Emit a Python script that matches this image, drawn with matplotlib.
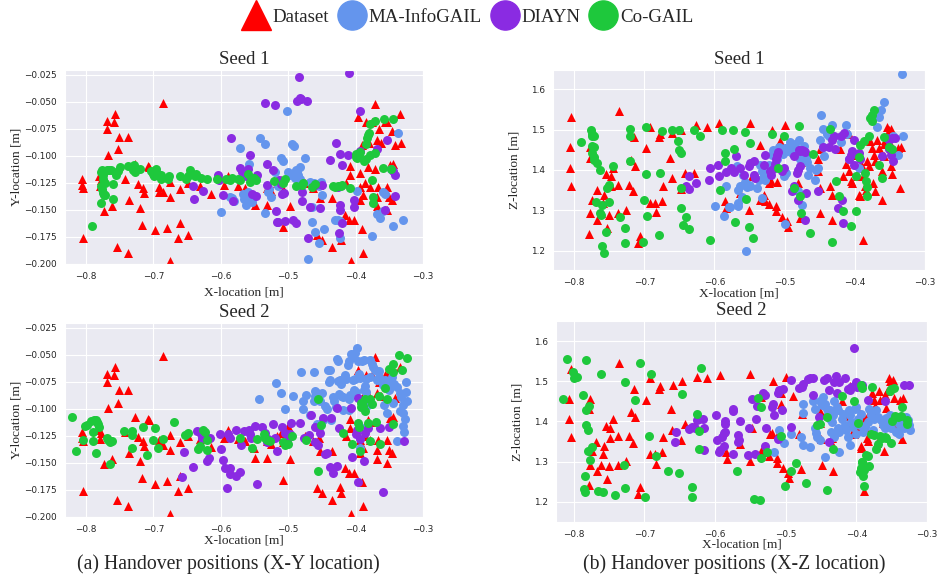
import numpy as np
import matplotlib
matplotlib.use("Agg")
import matplotlib.pyplot as plt
import seaborn as sns
from matplotlib.lines import Line2D

sns.set_style("darkgrid")
plt.rcParams['font.family'] = ['Liberation Serif', 'DejaVu Serif']

RED = '#ff0000'
BLUE = '#6495ed'
PURPLE = '#8a2be2'
GREEN = '#1ec83c'

# ---------- Dataset (same in both seeds) ----------
dataset_xy_x = [-0.806, -0.806, -0.805, -0.805, -0.780, -0.778, -0.779, -0.773, -0.769, -0.768, -0.767,
                -0.759, -0.757, -0.753, -0.751, -0.754, -0.761, -0.737, -0.736, -0.737, -0.742,
                -0.727, -0.723, -0.720, -0.716, -0.717, -0.714, -0.708, -0.706, -0.697, -0.692, -0.691,
                -0.685, -0.685, -0.680, -0.676, -0.675, -0.675, -0.664, -0.661, -0.661, -0.649, -0.648,
                -0.631, -0.615, -0.595, -0.589, -0.575, -0.564, -0.549, -0.551, -0.532, -0.532, -0.525,
                -0.517, -0.510, -0.508, -0.508, -0.501, -0.497, -0.475, -0.463, -0.457, -0.450, -0.453,
                -0.454, -0.435, -0.435, -0.423, -0.422, -0.416, -0.414, -0.410, -0.409, -0.408, -0.407,
                -0.403, -0.396, -0.394, -0.394, -0.393, -0.391, -0.389, -0.391, -0.389, -0.386, -0.384,
                -0.381, -0.380, -0.379, -0.375, -0.371, -0.369, -0.371, -0.369, -0.369, -0.367, -0.365,
                -0.362, -0.357, -0.354, -0.353, -0.354, -0.351, -0.346, -0.349, -0.344, -0.346, -0.341,
                -0.334, -0.333]
dataset_xy_y = [-0.121, -0.127, -0.130, -0.176, -0.119, -0.122, -0.128, -0.151, -0.068, -0.075, -0.099,
                -0.069, -0.061, -0.094, -0.082, -0.184, -0.146, -0.082, -0.141, -0.190, -0.121,
                -0.107, -0.126, -0.148, -0.130, -0.164, -0.134, -0.109, -0.110, -0.169, -0.129, -0.133,
                -0.133, -0.051, -0.167, -0.124, -0.138, -0.197, -0.176, -0.162, -0.131, -0.173, -0.125,
                -0.128, -0.135, -0.127, -0.119, -0.128, -0.130, -0.145, -0.136, -0.145, -0.130, -0.132,
                -0.125, -0.122, -0.131, -0.166, -0.116, -0.146, -0.125, -0.130, -0.173, -0.178, -0.139,
                -0.127, -0.139, -0.184, -0.172, -0.178, -0.155, -0.125, -0.159, -0.118, -0.109, -0.197,
                -0.159, -0.064, -0.141, -0.129, -0.116, -0.168, -0.190, -0.090, -0.136, -0.125, -0.069,
                -0.110, -0.088, -0.129, -0.069, -0.052, -0.085, -0.112, -0.138, -0.146, -0.129, -0.075,
                -0.088, -0.069, -0.069, -0.129, -0.150, -0.138, -0.077, -0.108, -0.107, -0.141, -0.090,
                -0.061, -0.088]

dataset_xz_x = [-0.804, -0.806, -0.806, -0.804, -0.779, -0.778, -0.777, -0.777, -0.774, -0.768, -0.767,
                -0.762, -0.759, -0.757, -0.755, -0.753, -0.750, -0.748, -0.748, -0.745, -0.738, -0.736,
                -0.737, -0.726, -0.722, -0.719, -0.716, -0.715, -0.713, -0.706, -0.709, -0.697, -0.692,
                -0.692, -0.685, -0.684, -0.679, -0.678, -0.675, -0.674, -0.663, -0.661, -0.660, -0.648,
                -0.647, -0.642, -0.629, -0.626, -0.611, -0.593, -0.585, -0.583, -0.564, -0.550, -0.551,
                -0.547, -0.535, -0.535, -0.530, -0.528, -0.523, -0.522, -0.520, -0.518, -0.513, -0.512,
                -0.511, -0.506, -0.506, -0.504, -0.499, -0.497, -0.495, -0.490, -0.481, -0.478, -0.477,
                -0.452, -0.452, -0.450, -0.449, -0.449, -0.435, -0.433, -0.433, -0.421, -0.417, -0.413,
                -0.409, -0.409, -0.406, -0.404, -0.401, -0.397, -0.394, -0.393, -0.391, -0.390, -0.389,
                -0.388, -0.385, -0.384, -0.382, -0.380, -0.378, -0.375, -0.374, -0.373, -0.372, -0.371,
                -0.368, -0.366, -0.362, -0.361, -0.359, -0.358, -0.357, -0.354, -0.352, -0.349, -0.348,
                -0.347, -0.347, -0.338, -0.335, -0.334]
dataset_xz_z = [1.530, 1.457, 1.405, 1.361, 1.242, 1.430, 1.457, 1.293, 1.327, 1.350, 1.277,
                1.293, 1.318, 1.339, 1.389, 1.256, 1.289, 1.385, 1.360, 1.405, 1.364, 1.545,
                1.293, 1.302, 1.364, 1.424, 1.347, 1.482, 1.410, 1.237, 1.219, 1.454, 1.507,
                1.318, 1.318, 1.295, 1.482, 1.488, 1.324, 1.361, 1.430, 1.380, 1.491, 1.354,
                1.500, 1.393, 1.393, 1.510, 1.507, 1.515, 1.324, 1.306, 1.343, 1.517, 1.302,
                1.385, 1.461, 1.327, 1.339, 1.323, 1.315, 1.368, 1.372, 1.500, 1.310, 1.298,
                1.370, 1.471, 1.443, 1.285, 1.510, 1.273, 1.260, 1.464, 1.368, 1.281, 1.419,
                1.426, 1.397, 1.356, 1.293, 1.451, 1.360, 1.277, 1.339, 1.451, 1.385, 1.414,
                1.488, 1.397, 1.372, 1.368, 1.438, 1.385, 1.339, 1.335, 1.414, 1.405, 1.228,
                1.385, 1.360, 1.351, 1.422, 1.410, 1.471, 1.454, 1.368, 1.438, 1.422, 1.347,
                1.475, 1.454, 1.397, 1.327, 1.465, 1.434, 1.475, 1.507, 1.500, 1.410, 1.502,
                1.458, 1.389, 1.454, 1.356, 1.458]

# ---------- Seed 1, X-Y ----------
infogail_s1_xy_x = [-0.600, -0.586, -0.584, -0.581, -0.572, -0.567, -0.565, -0.562, -0.560, -0.559, -0.556,
                    -0.554, -0.551, -0.558, -0.542, -0.534, -0.535, -0.530, -0.525, -0.520, -0.510, -0.508,
                    -0.502, -0.500, -0.497, -0.492, -0.490, -0.487, -0.485, -0.482, -0.495, -0.492, -0.475,
                    -0.470, -0.467, -0.462, -0.457, -0.454, -0.451, -0.465, -0.465, -0.460, -0.455, -0.447,
                    -0.450, -0.431, -0.426, -0.423, -0.423, -0.398, -0.376, -0.368, -0.364, -0.359, -0.357,
                    -0.344, -0.337, -0.329, -0.359, -0.347, -0.488, -0.483, -0.515, -0.528]
infogail_s1_xy_y = [-0.152, -0.138, -0.139, -0.142, -0.093, -0.135, -0.140, -0.145, -0.138, -0.133, -0.140,
                    -0.143, -0.137, -0.107, -0.083, -0.089, -0.153, -0.133, -0.138, -0.115, -0.102, -0.105,
                    -0.058, -0.115, -0.118, -0.116, -0.120, -0.115, -0.118, -0.121, -0.089, -0.091, -0.102,
                    -0.195, -0.124, -0.125, -0.126, -0.128, -0.124, -0.147, -0.161, -0.170, -0.181, -0.168,
                    -0.136, -0.159, -0.159, -0.160, -0.176, -0.132, -0.174, -0.154, -0.157, -0.133, -0.135,
                    -0.165, -0.079, -0.159, -0.151, -0.112, -0.113, -0.110, -0.128, -0.131]

diayn_s1_xy_x = [-0.585, -0.641, -0.639, -0.627, -0.604, -0.602, -0.596, -0.582, -0.571, -0.569, -0.563,
                 -0.559, -0.557, -0.554, -0.546, -0.547, -0.535, -0.532, -0.531, -0.523, -0.520, -0.518,
                 -0.517, -0.515, -0.513, -0.510, -0.509, -0.506, -0.505, -0.493, -0.489, -0.487, -0.483,
                 -0.481, -0.484, -0.472, -0.480, -0.480, -0.471, -0.468, -0.460, -0.453, -0.450, -0.438,
                 -0.429, -0.426, -0.424, -0.423, -0.423, -0.423, -0.420, -0.420, -0.411, -0.410, -0.403,
                 -0.403, -0.394, -0.393, -0.369, -0.357, -0.354, -0.344, -0.342, -0.342]
diayn_s1_xy_y = [-0.083, -0.128, -0.140, -0.132, -0.118, -0.122, -0.136, -0.142, -0.111, -0.115, -0.119,
                 -0.112, -0.099, -0.135, -0.118, -0.137, -0.051, -0.127, -0.107, -0.113, -0.053, -0.151,
                 -0.161, -0.161, -0.122, -0.126, -0.135, -0.134, -0.160, -0.159, -0.162, -0.049, -0.046,
                 -0.047, -0.027, -0.049, -0.142, -0.133, -0.176, -0.147, -0.127, -0.148, -0.127, -0.104,
                 -0.088, -0.129, -0.171, -0.098, -0.145, -0.150, -0.108, -0.162, -0.099, -0.023, -0.141,
                 -0.147, -0.058, -0.095, -0.094, -0.150, -0.085, -0.114, -0.118, -0.137]

cogail_s1_xy_x = [-0.791, -0.777, -0.776, -0.774, -0.773, -0.771, -0.777, -0.777, -0.775, -0.774, -0.772,
                  -0.776, -0.769, -0.766, -0.763, -0.760, -0.760, -0.755, -0.752, -0.750, -0.737, -0.730,
                  -0.728, -0.727, -0.720, -0.703, -0.701, -0.699, -0.696, -0.693, -0.689, -0.688, -0.678,
                  -0.677, -0.661, -0.652, -0.649, -0.646, -0.645, -0.638, -0.637, -0.629, -0.620, -0.606,
                  -0.592, -0.587, -0.584, -0.575, -0.571, -0.559, -0.556, -0.550, -0.547, -0.521, -0.508,
                  -0.504, -0.488, -0.480, -0.478, -0.464, -0.460, -0.434, -0.430, -0.426, -0.422, -0.420,
                  -0.409, -0.400, -0.399, -0.398, -0.395, -0.394, -0.388, -0.384, -0.383, -0.381, -0.380,
                  -0.379, -0.371, -0.384, -0.379, -0.376, -0.371, -0.374, -0.374, -0.359, -0.358, -0.344,
                  -0.347]
cogail_s1_xy_y = [-0.165, -0.128, -0.131, -0.134, -0.136, -0.136, -0.144, -0.115, -0.118, -0.121, -0.125,
                  -0.113, -0.113, -0.113, -0.113, -0.126, -0.140, -0.118, -0.114, -0.110, -0.109, -0.113,
                  -0.108, -0.115, -0.112, -0.114, -0.117, -0.119, -0.112, -0.117, -0.121, -0.118, -0.121,
                  -0.119, -0.119, -0.121, -0.119, -0.117, -0.113, -0.119, -0.117, -0.120, -0.121, -0.121,
                  -0.121, -0.122, -0.120, -0.121, -0.122, -0.117, -0.124, -0.120, -0.122, -0.123, -0.125,
                  -0.121, -0.128, -0.127, -0.125, -0.129, -0.126, -0.128, -0.129, -0.128, -0.128, -0.127,
                  -0.130, -0.098, -0.101, -0.102, -0.099, -0.096, -0.105, -0.089, -0.083, -0.081, -0.079,
                  -0.070, -0.068, -0.103, -0.099, -0.122, -0.097, -0.138, -0.144, -0.111, -0.066, -0.066,
                  -0.112]

# ---------- Seed 2, X-Y ----------
infogail_s2_xy_x = [-0.543, -0.518, -0.511, -0.505, -0.493, -0.481, -0.478, -0.478, -0.473, -0.467, -0.462,
                    -0.460, -0.461, -0.460, -0.457, -0.458, -0.455, -0.453, -0.450, -0.449, -0.445, -0.443,
                    -0.441, -0.438, -0.440, -0.438, -0.437, -0.434, -0.432, -0.429, -0.427, -0.426, -0.426,
                    -0.423, -0.422, -0.425, -0.421, -0.418, -0.419, -0.415, -0.414, -0.412, -0.410, -0.410,
                    -0.409, -0.407, -0.404, -0.404, -0.401, -0.402, -0.399, -0.401, -0.398, -0.397, -0.395,
                    -0.393, -0.391, -0.388, -0.388, -0.386, -0.384, -0.379, -0.384, -0.381, -0.384, -0.385,
                    -0.379, -0.375, -0.374, -0.371, -0.369, -0.366, -0.365, -0.360, -0.358, -0.356, -0.351,
                    -0.349, -0.348, -0.346, -0.345, -0.343, -0.339, -0.334, -0.332, -0.330, -0.329, -0.327,
                    -0.328, -0.334, -0.325, -0.324, -0.325, -0.339, -0.329, -0.354, -0.393, -0.410]
infogail_s2_xy_y = [-0.091, -0.076, -0.085, -0.100, -0.088, -0.066, -0.093, -0.100, -0.087, -0.106, -0.093,
                    -0.088, -0.066, -0.083, -0.085, -0.114, -0.118, -0.093, -0.085, -0.110, -0.097, -0.100,
                    -0.064, -0.064, -0.075, -0.073, -0.110, -0.089, -0.093, -0.098, -0.054, -0.056, -0.074,
                    -0.073, -0.077, -0.086, -0.088, -0.089, -0.101, -0.069, -0.072, -0.059, -0.056, -0.091,
                    -0.087, -0.049, -0.052, -0.073, -0.072, -0.082, -0.084, -0.048, -0.044, -0.056, -0.068,
                    -0.071, -0.056, -0.055, -0.082, -0.079, -0.072, -0.070, -0.091, -0.096, -0.117, -0.084,
                    -0.055, -0.058, -0.061, -0.064, -0.073, -0.070, -0.065, -0.078, -0.096, -0.073, -0.082,
                    -0.080, -0.073, -0.070, -0.094, -0.077, -0.080, -0.085, -0.089, -0.096, -0.104, -0.109,
                    -0.121, -0.102, -0.084, -0.093, -0.075, -0.130, -0.116, -0.104, -0.136, -0.101]

diayn_s2_xy_x = [-0.655, -0.658, -0.641, -0.635, -0.629, -0.628, -0.621, -0.617, -0.616, -0.601, -0.599,
                 -0.597, -0.593, -0.586, -0.587, -0.590, -0.587, -0.591, -0.577, -0.577, -0.571, -0.570,
                 -0.566, -0.558, -0.556, -0.555, -0.549, -0.546, -0.539, -0.535, -0.532, -0.530, -0.523,
                 -0.520, -0.516, -0.509, -0.505, -0.502, -0.498, -0.496, -0.483, -0.477, -0.466, -0.469,
                 -0.460, -0.460, -0.456, -0.453, -0.449, -0.446, -0.443, -0.438, -0.436, -0.433, -0.428,
                 -0.427, -0.424, -0.407, -0.405, -0.400, -0.397, -0.396, -0.393, -0.387, -0.382, -0.364,
                 -0.359, -0.350, -0.328, -0.398, -0.386]
diayn_s2_xy_y = [-0.140, -0.163, -0.154, -0.120, -0.123, -0.127, -0.148, -0.145, -0.127, -0.123, -0.137,
                 -0.147, -0.155, -0.155, -0.160, -0.123, -0.127, -0.173, -0.119, -0.162, -0.158, -0.133,
                 -0.120, -0.119, -0.123, -0.127, -0.116, -0.169, -0.117, -0.122, -0.131, -0.128, -0.114,
                 -0.127, -0.139, -0.117, -0.122, -0.130, -0.123, -0.113, -0.113, -0.127, -0.106, -0.124,
                 -0.117, -0.131, -0.133, -0.122, -0.108, -0.142, -0.141, -0.154, -0.108, -0.159, -0.099,
                 -0.153, -0.118, -0.099, -0.144, -0.123, -0.168, -0.090, -0.128, -0.148, -0.118, -0.118,
                 -0.177, -0.117, -0.130, -0.119, -0.122]

cogail_s2_xy_x = [-0.821, -0.814, -0.805, -0.801, -0.798, -0.792, -0.788, -0.785, -0.784, -0.782, -0.780,
                  -0.789, -0.789, -0.785, -0.769, -0.767, -0.764, -0.762, -0.764, -0.744, -0.732, -0.732,
                  -0.731, -0.716, -0.710, -0.701, -0.697, -0.693, -0.685, -0.669, -0.653, -0.649, -0.634,
                  -0.631, -0.627, -0.624, -0.621, -0.621, -0.571, -0.553, -0.546, -0.536, -0.534, -0.532,
                  -0.527, -0.507, -0.504, -0.500, -0.494, -0.473, -0.456, -0.451, -0.456, -0.419, -0.405,
                  -0.396, -0.395, -0.393, -0.392, -0.389, -0.392, -0.386, -0.386, -0.381, -0.379, -0.376,
                  -0.370, -0.379, -0.365, -0.364, -0.357, -0.354, -0.351, -0.345, -0.344, -0.345, -0.336,
                  -0.331, -0.324]
cogail_s2_xy_y = [-0.107, -0.139, -0.129, -0.116, -0.115, -0.111, -0.110, -0.110, -0.112, -0.114, -0.117,
                  -0.121, -0.130, -0.141, -0.127, -0.129, -0.131, -0.130, -0.151, -0.120, -0.120, -0.124,
                  -0.136, -0.117, -0.143, -0.129, -0.118, -0.136, -0.128, -0.112, -0.124, -0.122, -0.137,
                  -0.134, -0.119, -0.121, -0.138, -0.129, -0.127, -0.136, -0.128, -0.123, -0.127, -0.129,
                  -0.130, -0.131, -0.133, -0.132, -0.125, -0.129, -0.157, -0.115, -0.091, -0.122, -0.132,
                  -0.113, -0.117, -0.139, -0.094, -0.097, -0.098, -0.102, -0.091, -0.113, -0.091, -0.095,
                  -0.112, -0.130, -0.088, -0.132, -0.081, -0.091, -0.063, -0.058, -0.066, -0.114, -0.050,
                  -0.064, -0.053]

# ---------- Seed 1, X-Z ----------
infogail_s1_xz_x = [-0.599, -0.587, -0.583, -0.580, -0.578, -0.568, -0.566, -0.564, -0.566, -0.566, -0.561,
                    -0.559, -0.556, -0.554, -0.551, -0.549, -0.555, -0.540, -0.537, -0.535, -0.533, -0.532,
                    -0.530, -0.528, -0.523, -0.518, -0.516, -0.512, -0.508, -0.511, -0.505, -0.502, -0.499,
                    -0.496, -0.493, -0.490, -0.488, -0.485, -0.482, -0.480, -0.478, -0.475, -0.472, -0.470,
                    -0.468, -0.499, -0.501, -0.498, -0.481, -0.476, -0.467, -0.464, -0.455, -0.452, -0.457,
                    -0.449, -0.448, -0.446, -0.445, -0.444, -0.439, -0.437, -0.433, -0.420, -0.413, -0.409,
                    -0.411, -0.394, -0.369, -0.366, -0.363, -0.358, -0.333, -0.332, -0.339, -0.345, -0.492,
                    -0.486, -0.479, -0.473]
infogail_s1_xz_z = [1.310, 1.286, 1.360, 1.308, 1.309, 1.411, 1.351, 1.360, 1.318, 1.312, 1.334,
                    1.388, 1.371, 1.359, 1.363, 1.360, 1.201, 1.355, 1.376, 1.413, 1.397, 1.330,
                    1.388, 1.376, 1.413, 1.438, 1.450, 1.438, 1.458, 1.426, 1.452, 1.440, 1.455,
                    1.447, 1.460, 1.443, 1.452, 1.440, 1.448, 1.432, 1.428, 1.445, 1.460, 1.430,
                    1.420, 1.267, 1.385, 1.393, 1.348, 1.313, 1.388, 1.405, 1.400, 1.405, 1.376,
                    1.475, 1.537, 1.502, 1.456, 1.434, 1.490, 1.483, 1.510, 1.469, 1.512, 1.426,
                    1.488, 1.405, 1.507, 1.532, 1.547, 1.569, 1.637, 1.484, 1.436, 1.483, 1.470,
                    1.465, 1.475, 1.442]

diayn_s1_xz_x = [-0.637, -0.640, -0.637, -0.626, -0.607, -0.608, -0.595, -0.594, -0.583, -0.576, -0.572,
                 -0.569, -0.563, -0.558, -0.551, -0.549, -0.544, -0.544, -0.542, -0.530, -0.528, -0.521,
                 -0.519, -0.516, -0.514, -0.513, -0.511, -0.509, -0.504, -0.501, -0.490, -0.487, -0.487,
                 -0.480, -0.478, -0.476, -0.473, -0.471, -0.483, -0.481, -0.478, -0.481, -0.471, -0.469,
                 -0.452, -0.445, -0.437, -0.433, -0.430, -0.428, -0.424, -0.419, -0.417, -0.420, -0.416,
                 -0.409, -0.406, -0.404, -0.401, -0.401, -0.394, -0.392, -0.354, -0.351, -0.347, -0.343,
                 -0.352, -0.349, -0.345, -0.361]
diayn_s1_xz_z = [1.385, 1.360, 1.352, 1.368, 1.405, 1.376, 1.413, 1.385, 1.395, 1.405, 1.395,
                 1.434, 1.405, 1.388, 1.409, 1.417, 1.421, 1.388, 1.380, 1.413, 1.438, 1.397,
                 1.388, 1.403, 1.414, 1.428, 1.436, 1.445, 1.397, 1.405, 1.348, 1.360, 1.434,
                 1.450, 1.447, 1.450, 1.448, 1.445, 1.393, 1.401, 1.410, 1.327, 1.277, 1.343,
                 1.347, 1.457, 1.457, 1.475, 1.483, 1.452, 1.305, 1.326, 1.268, 1.483, 1.491,
                 1.426, 1.438, 1.447, 1.475, 1.413, 1.442, 1.426, 1.480, 1.475, 1.478, 1.480,
                 1.453, 1.436, 1.421, 1.434]

cogail_s1_xz_x = [-0.790, -0.776, -0.775, -0.774, -0.771, -0.774, -0.771, -0.774, -0.772, -0.771, -0.768,
                  -0.769, -0.763, -0.763, -0.761, -0.760, -0.760, -0.758, -0.755, -0.753, -0.750, -0.750,
                  -0.745, -0.735, -0.728, -0.727, -0.721, -0.720, -0.720, -0.701, -0.702, -0.697, -0.697,
                  -0.696, -0.679, -0.677, -0.675, -0.660, -0.652, -0.650, -0.650, -0.648, -0.648, -0.648,
                  -0.645, -0.640, -0.636, -0.629, -0.621, -0.606, -0.592, -0.590, -0.585, -0.585, -0.574,
                  -0.572, -0.571, -0.557, -0.555, -0.551, -0.549, -0.545, -0.518, -0.509, -0.501, -0.487,
                  -0.479, -0.478, -0.477, -0.464, -0.460, -0.435, -0.432, -0.427, -0.423, -0.417, -0.405,
                  -0.399, -0.398, -0.394, -0.392, -0.387, -0.385, -0.384, -0.382, -0.382, -0.380, -0.378,
                  -0.375, -0.373, -0.376, -0.366, -0.359, -0.361, -0.352, -0.347]
cogail_s1_xz_z = [1.469, 1.498, 1.488, 1.483, 1.483, 1.459, 1.457, 1.441, 1.433, 1.425, 1.417,
                  1.322, 1.400, 1.293, 1.289, 1.314, 1.211, 1.196, 1.247, 1.355, 1.362, 1.322,
                  1.409, 1.283, 1.219, 1.256, 1.502, 1.483, 1.421, 1.327, 1.223, 1.507, 1.391,
                  1.287, 1.240, 1.393, 1.496, 1.500, 1.471, 1.500, 1.450, 1.443, 1.356, 1.306,
                  1.265, 1.285, 1.254, 1.500, 1.483, 1.227, 1.351, 1.500, 1.443, 1.421, 1.498,
                  1.452, 1.272, 1.494, 1.328, 1.260, 1.466, 1.233, 1.489, 1.405, 1.483, 1.356,
                  1.508, 1.335, 1.293, 1.245, 1.439, 1.502, 1.221, 1.373, 1.335, 1.298, 1.261,
                  1.385, 1.299, 1.433, 1.461, 1.471, 1.392, 1.373, 1.358, 1.336, 1.484, 1.529,
                  1.520, 1.547, 1.536, 1.413, 1.482, 1.380, 1.457, 1.453]

# ---------- Seed 2, X-Z ----------
infogail_s2_xz_x = [-0.516, -0.509, -0.502, -0.493, -0.478, -0.476, -0.476, -0.475, -0.466, -0.462, -0.459,
                    -0.459, -0.457, -0.455, -0.452, -0.452, -0.449, -0.447, -0.445, -0.445, -0.442, -0.440,
                    -0.438, -0.438, -0.434, -0.433, -0.436, -0.432, -0.431, -0.428, -0.426, -0.426, -0.424,
                    -0.424, -0.421, -0.419, -0.416, -0.414, -0.412, -0.410, -0.409, -0.409, -0.407, -0.405,
                    -0.402, -0.400, -0.400, -0.398, -0.395, -0.393, -0.391, -0.388, -0.384, -0.382, -0.379,
                    -0.377, -0.375, -0.372, -0.370, -0.365, -0.362, -0.360, -0.358, -0.355, -0.353, -0.351,
                    -0.348, -0.346, -0.344, -0.341, -0.339, -0.337, -0.334, -0.332, -0.330, -0.327, -0.325,
                    -0.324, -0.340]
infogail_s2_xz_z = [1.325, 1.378, 1.347, 1.370, 1.362, 1.341, 1.443, 1.422, 1.337, 1.452, 1.432,
                    1.383, 1.372, 1.362, 1.354, 1.452, 1.440, 1.461, 1.444, 1.312, 1.432, 1.419,
                    1.428, 1.407, 1.399, 1.415, 1.374, 1.362, 1.452, 1.436, 1.428, 1.383, 1.374,
                    1.325, 1.407, 1.419, 1.391, 1.378, 1.362, 1.428, 1.415, 1.341, 1.399, 1.387,
                    1.432, 1.436, 1.370, 1.407, 1.391, 1.419, 1.374, 1.387, 1.399, 1.432, 1.415,
                    1.378, 1.407, 1.428, 1.411, 1.403, 1.391, 1.383, 1.409, 1.395, 1.415, 1.383,
                    1.411, 1.403, 1.374, 1.409, 1.395, 1.387, 1.399, 1.383, 1.411, 1.403, 1.391,
                    1.378, 1.370]

diayn_s2_xz_x = [-0.655, -0.656, -0.637, -0.633, -0.629, -0.625, -0.622, -0.617, -0.616, -0.615, -0.598,
                 -0.597, -0.595, -0.593, -0.590, -0.588, -0.587, -0.586, -0.586, -0.586, -0.574, -0.575,
                 -0.574, -0.568, -0.566, -0.567, -0.564, -0.553, -0.552, -0.548, -0.543, -0.542, -0.540,
                 -0.532, -0.529, -0.529, -0.528, -0.520, -0.518, -0.517, -0.511, -0.510, -0.504, -0.511,
                 -0.505, -0.493, -0.493, -0.481, -0.477, -0.475, -0.469, -0.466, -0.462, -0.462, -0.453,
                 -0.446, -0.442, -0.439, -0.439, -0.432, -0.429, -0.427, -0.424, -0.416, -0.409, -0.407,
                 -0.412, -0.400, -0.399, -0.403, -0.392, -0.384, -0.360, -0.332, -0.326]
diayn_s2_xz_z = [1.374, 1.350, 1.382, 1.387, 1.385, 1.403, 1.406, 1.406, 1.385, 1.328, 1.417,
                 1.355, 1.325, 1.328, 1.362, 1.372, 1.339, 1.395, 1.400, 1.374, 1.319, 1.426,
                 1.432, 1.366, 1.354, 1.350, 1.400, 1.316, 1.385, 1.456, 1.319, 1.406, 1.439,
                 1.470, 1.466, 1.339, 1.385, 1.436, 1.443, 1.415, 1.470, 1.478, 1.482, 1.356,
                 1.428, 1.502, 1.387, 1.484, 1.486, 1.494, 1.506, 1.509, 1.509, 1.467, 1.411,
                 1.502, 1.507, 1.349, 1.479, 1.497, 1.514, 1.471, 1.497, 1.509, 1.479, 1.487,
                 1.480, 1.497, 1.486, 1.584, 1.492, 1.454, 1.450, 1.490, 1.492]

cogail_s2_xz_x = [-0.815, -0.809, -0.801, -0.799, -0.796, -0.787, -0.784, -0.785, -0.784, -0.782, -0.782,
                  -0.780, -0.782, -0.779, -0.780, -0.777, -0.774, -0.762, -0.765, -0.758, -0.741, -0.729,
                  -0.728, -0.728, -0.713, -0.706, -0.699, -0.694, -0.691, -0.683, -0.667, -0.651, -0.647,
                  -0.632, -0.632, -0.625, -0.623, -0.622, -0.620, -0.569, -0.545, -0.539, -0.535, -0.535,
                  -0.526, -0.536, -0.506, -0.501, -0.493, -0.485, -0.471, -0.456, -0.452, -0.442, -0.442,
                  -0.433, -0.420, -0.404, -0.398, -0.395, -0.394, -0.392, -0.391, -0.390, -0.389, -0.393,
                  -0.392, -0.389, -0.392, -0.386, -0.384, -0.382, -0.378, -0.379, -0.375, -0.372, -0.370,
                  -0.367, -0.364, -0.359, -0.358, -0.353, -0.351, -0.347, -0.351, -0.349, -0.346, -0.341,
                  -0.337, -0.336, -0.329, -0.329]
cogail_s2_xz_z = [1.456, 1.555, 1.524, 1.507, 1.511, 1.467, 1.265, 1.232, 1.224, 1.552, 1.391,
                  1.380, 1.428, 1.438, 1.326, 1.304, 1.336, 1.518, 1.228, 1.224, 1.216, 1.291,
                  1.498, 1.235, 1.454, 1.546, 1.212, 1.363, 1.518, 1.313, 1.278, 1.272, 1.469,
                  1.237, 1.211, 1.419, 1.376, 1.332, 1.534, 1.278, 1.206, 1.458, 1.436, 1.309,
                  1.324, 1.204, 1.363, 1.240, 1.277, 1.296, 1.248, 1.392, 1.395, 1.411, 1.230,
                  1.332, 1.464, 1.452, 1.397, 1.275, 1.285, 1.300, 1.265, 1.295, 1.280, 1.490,
                  1.484, 1.240, 1.300, 1.317, 1.315, 1.290, 1.487, 1.370, 1.367, 1.331, 1.345,
                  1.364, 1.359, 1.362, 1.359, 1.477, 1.481, 1.483, 1.347, 1.400, 1.413, 1.411,
                  1.413, 1.435, 1.395, 1.403]

legend_labels = ['Dataset', 'MA-InfoGAIL', 'DIAYN', 'Co-GAIL']
caption_a = '(a) Handover positions (X-Y location)'
caption_b = '(b) Handover positions (X-Z location)'

MS = 42


def draw_panel(ax, ds_x, ds_y, info, diayn, cogail, title, ylabel, xlim, ylim, yticks,
               xpad, ypad):
    ax.scatter(ds_x, ds_y, s=MS, marker='^', color=RED, linewidths=0)
    ax.scatter(info[0], info[1], s=MS, marker='o', color=BLUE, linewidths=0)
    ax.scatter(diayn[0], diayn[1], s=MS, marker='o', color=PURPLE, linewidths=0)
    ax.scatter(cogail[0], cogail[1], s=MS, marker='o', color=GREEN, linewidths=0)
    ax.set_xlim(*xlim)
    ax.set_ylim(*ylim)
    ax.set_xticks([-0.8, -0.7, -0.6, -0.5, -0.4, -0.3])
    ax.set_yticks(yticks)
    ax.tick_params(labelsize=6.4, pad=2.5, colors='.15')
    for lab in ax.get_xticklabels() + ax.get_yticklabels():
        lab.set_fontfamily('DejaVu Sans')
    ax.set_title(title, fontsize=13.5, pad=4)
    ax.set_xlabel('X-location [m]', fontsize=9.6, labelpad=xpad)
    ax.set_ylabel(ylabel, fontsize=9.6, labelpad=ypad)


fig = plt.figure(figsize=(9.38, 5.77), dpi=100)

xy_ticks = [-0.200, -0.175, -0.150, -0.125, -0.100, -0.075, -0.050, -0.025]
xz_ticks = [1.2, 1.3, 1.4, 1.5, 1.6]

ax1 = fig.add_axes([0.0693, 0.5425, 0.3817, 0.3362])
draw_panel(ax1, dataset_xy_x, dataset_xy_y, (infogail_s1_xy_x, infogail_s1_xy_y),
           (diayn_s1_xy_x, diayn_s1_xy_y), (cogail_s1_xy_x, cogail_s1_xy_y),
           'Seed 1', 'Y-location [m]', (-0.831, -0.3), (-0.2, -0.0204), xy_ticks, 4, 1)

ax2 = fig.add_axes([0.5896, 0.5321, 0.3966, 0.3466])
draw_panel(ax2, dataset_xz_x, dataset_xz_z, (infogail_s1_xz_x, infogail_s1_xz_z),
           (diayn_s1_xz_x, diayn_s1_xz_z), (cogail_s1_xz_x, cogail_s1_xz_z),
           'Seed 1', 'Z-location [m]', (-0.83, -0.3), (1.153, 1.647), xz_ticks, 0, 7)

ax3 = fig.add_axes([0.0693, 0.104, 0.3817, 0.3362])
draw_panel(ax3, dataset_xy_x, dataset_xy_y, (infogail_s2_xy_x, infogail_s2_xy_y),
           (diayn_s2_xy_x, diayn_s2_xy_y), (cogail_s2_xy_x, cogail_s2_xy_y),
           'Seed 2', 'Y-location [m]', (-0.831, -0.3), (-0.2, -0.0204), xy_ticks, 0.3, 1)

ax4 = fig.add_axes([0.5928, 0.0953, 0.3955, 0.3484])
draw_panel(ax4, dataset_xz_x, dataset_xz_z, (infogail_s2_xz_x, infogail_s2_xz_z),
           (diayn_s2_xz_x, diayn_s2_xz_z), (cogail_s2_xz_x, cogail_s2_xz_z),
           'Seed 2', 'Z-location [m]', (-0.825, -0.3), (1.15, 1.65), xz_ticks, -0.5, 7)

handles = [Line2D([], [], ls='none', marker='^', color=RED, markersize=21),
           Line2D([], [], ls='none', marker='o', color=BLUE, markersize=21),
           Line2D([], [], ls='none', marker='o', color=PURPLE, markersize=21),
           Line2D([], [], ls='none', marker='o', color=GREEN, markersize=21)]
fig.legend(handles, legend_labels, loc='center', bbox_to_anchor=(0.5, 0.97), ncol=4,
           frameon=False, fontsize=13.6, handlelength=1.2, handletextpad=0.3,
           columnspacing=0.6, borderpad=0)

fig.text(0.244, 0.022, caption_a, ha='center', va='center', fontsize=14.2)
fig.text(0.783, 0.022, caption_b, ha='center', va='center', fontsize=14.2)

fig.savefig('out.png', dpi=100)
